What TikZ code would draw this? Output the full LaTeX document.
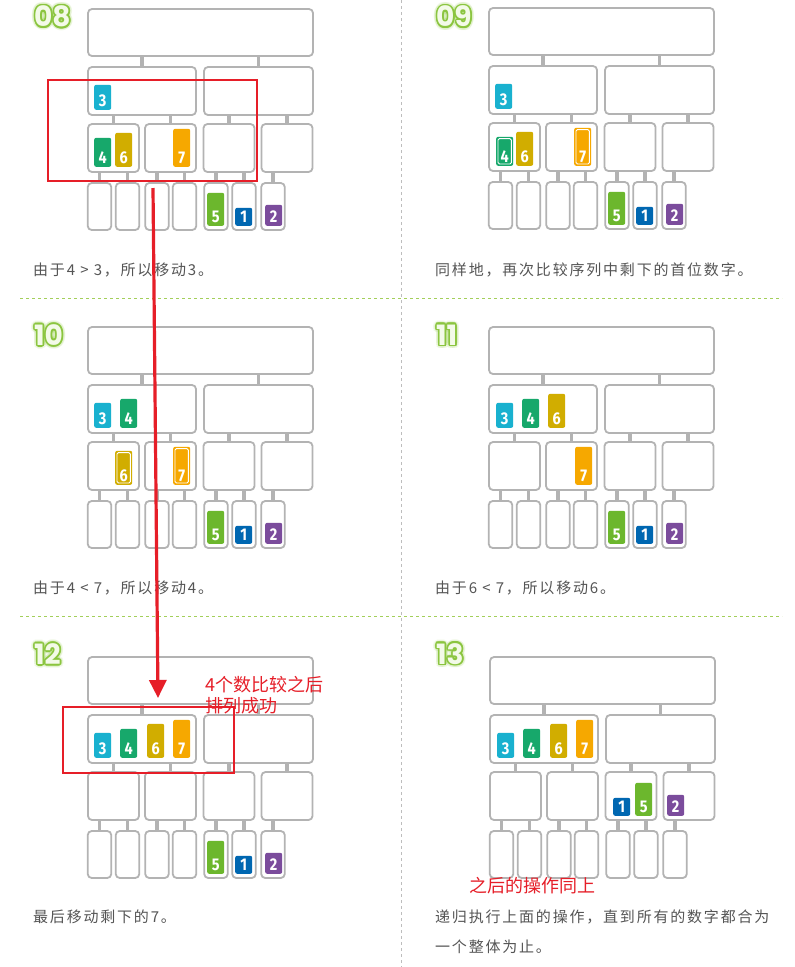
\documentclass[tikz,border=0pt]{standalone}
\usepackage{fontspec}
\usetikzlibrary{arrows.meta}
\newfontfamily\cjk{Noto Sans CJK SC}
\newfontfamily\cjksp[LetterSpace=12]{Noto Sans CJK SC}
\newfontfamily\digfont[FakeStretch=0.85]{Fira Sans}
\newfontfamily\lblfont{Poppins}
\definecolor{boxgray}{HTML}{B3B3B3}
\definecolor{col1}{HTML}{0067B1}
\definecolor{col2}{HTML}{7B4C9C}
\definecolor{col3}{HTML}{19B1CF}
\definecolor{col4}{HTML}{17A86B}
\definecolor{col5}{HTML}{6CB72D}
\definecolor{col6}{HTML}{D1AD00}
\definecolor{col7}{HTML}{F6A800}
\definecolor{textgray}{HTML}{555555}
\definecolor{notered}{HTML}{E61E28}
\definecolor{divgreen}{HTML}{A3CF5A}
\definecolor{divgray}{HTML}{BDBDBD}
\definecolor{lbloutline}{HTML}{8BC53F}
\definecolor{lblfill}{HTML}{F3FAE8}
\definecolor{lblglow}{HTML}{A8D86A}
\tikzset{
  box/.style={draw=boxgray, line width=1.8pt, rounded corners=4pt, fill=white, inner sep=0pt},
  conn/.style={draw=boxgray, line width=3.5pt},
  card/.style={rounded corners=2pt, inner sep=0pt, minimum width=17pt},
  c1/.style={fill=col1, minimum height=18pt},
  c2/.style={fill=col2, minimum height=21pt},
  c3/.style={fill=col3, minimum height=25pt},
  c4/.style={fill=col4, minimum height=29pt},
  c5/.style={fill=col5, minimum height=33pt},
  c6/.style={fill=col6, minimum height=34pt},
  c7/.style={fill=col7, minimum height=38pt},
  digit/.style={font=\digfont\bfseries\fontsize{17}{17}\selectfont, text=white, inner sep=0pt},
  desc/.style={font=\cjksp\fontsize{15}{15}\selectfont, text=textgray, anchor=west, inner sep=0pt},
  note/.style={font=\cjk\fontsize{18}{18}\selectfont, text=notered, anchor=west, inner sep=0pt},
  lbl/.style={font=\lblfont\bfseries\fontsize{28}{28}\selectfont, anchor=west, inner sep=0pt},
  redbox/.style={draw=notered, line width=1.5pt, inner sep=0pt},
  hdiv/.style={draw=divgreen, line width=1pt, dash pattern=on 3pt off 3pt},
  vdiv/.style={draw=divgray, line width=1pt, dash pattern=on 3pt off 3pt},
}
\newcommand\tree[3]{%
\begin{scope}[shift={(#2,#3)}]
\node[box,minimum width=225pt,minimum height=47pt] (#1T) at (112.5,23.5) {};
\node[box,minimum width=108pt,minimum height=48pt] (#1A) at (54,82) {};
\node[box,minimum width=109pt,minimum height=48pt] (#1B) at (170.5,82) {};
\foreach \n/\cx in {1/25.5,2/82.5,3/141,4/199}
  {\node[box,minimum width=51pt,minimum height=48pt] (#1L\n) at (\cx,139) {};}
\foreach \n/\cx in {1/11.5,2/39.5,3/69,4/96.5,5/128,6/156,7/185}
  {\node[box,minimum width=23.5pt,minimum height=47pt] (#1F\n) at (\cx,197.5) {};}
\foreach \c/\p in {A/T,B/T,L1/A,L2/A,L3/B,L4/B,F1/L1,F2/L1,F3/L2,F4/L2,F5/L3,F6/L3,F7/L4}
  {\draw[conn] (#1\c.north) -- (#1\c.north |- #1\p.south);}
\end{scope}}
\newcommand\crd[4]{%
\node[card,c#4,anchor=south west] (#1) at (#2,#3) {};
\node[digit,anchor=base] (#1n) at ([yshift=3.5pt]#1.south) {#4};}
\newcommand\hlc[1]{%
\draw[white, line width=0.9pt, rounded corners=1.5pt] ([shift={(2pt,2pt)}]#1.south west) rectangle ([shift={(-2pt,-2pt)}]#1.north east);}
\newcommand\leaves[1]{%
\crd{#15}{119}{217}{5}\crd{#11}{147}{217}{1}\crd{#12}{177}{217}{2}}
\newcommand\steplbl[4]{%
\foreach \a in {0,30,...,330}
  {\node[lbl,text=lblglow,opacity=0.14] (#1g\a) at ([shift={(\a:3.6pt)}]#2,#3) {#4};}
\foreach \a in {0,30,...,330}
  {\node[lbl,text=lbloutline] (#1o\a) at ([shift={(\a:1.6pt)}]#2,#3) {#4};}
\node[lbl,text=lblfill] (#1) at (#2,#3) {#4};}
\begin{document}
\begin{tikzpicture}[x=1pt,y=-1pt]
\fill[white] (0,0) rectangle (795,967);
\useasboundingbox (0,0) rectangle (795,967);
% dividers
\draw[vdiv] (401,0) -- (401,967);
\draw[hdiv] (20,298) -- (782,298);
\draw[hdiv] (20,616) -- (782,616);
% step labels
\steplbl{s08}{34}{16.5}{08}
\steplbl{s09}{436}{16.5}{09}
\steplbl{s10}{34}{335}{10}
\steplbl{s11}{436}{335}{11}
\steplbl{s12}{34}{654}{12}
\steplbl{s13}{436}{654}{13}
% panel 08
\tree{a}{88}{9}
\begin{scope}[shift={(88,9)}]
\crd{a3}{6}{101}{3}
\crd{a4}{6}{158}{4}\crd{a6}{27}{158}{6}\crd{a7}{85}{158}{7}
\leaves{a}
\end{scope}
% panel 09
\tree{b}{489}{8}
\begin{scope}[shift={(489,8)}]
\crd{b3}{6}{101}{3}
\node[card,c4,anchor=south west] (b4) at (7,158) {};
\node[card,c6,anchor=south west] (b6) at (27,158) {};
\node[card,c7,anchor=south west] (b7) at (85,158) {};
\hlc{b4}\hlc{b7}
\node[digit,anchor=base] (b4n) at ([yshift=3.5pt]b4.south) {4};
\node[digit,anchor=base] (b6n) at ([yshift=3.5pt]b6.south) {6};
\node[digit,anchor=base] (b7n) at ([yshift=3.5pt]b7.south) {7};
\leaves{b}
\end{scope}
% panel 10
\tree{c}{88}{327}
\begin{scope}[shift={(88,327)}]
\crd{c3}{6}{101}{3}\crd{c4}{32}{101}{4}
\node[card,c6,anchor=south west] (c6) at (27,158) {};
\node[card,c7,anchor=south west] (c7) at (85,158) {};
\hlc{c6}\hlc{c7}
\node[digit,anchor=base] (c6n) at ([yshift=3.5pt]c6.south) {6};
\node[digit,anchor=base] (c7n) at ([yshift=3.5pt]c7.south) {7};
\leaves{c}
\end{scope}
% panel 11
\tree{d}{489}{327}
\begin{scope}[shift={(489,327)}]
\crd{d3}{7}{101}{3}\crd{d4}{33}{101}{4}\crd{d6}{59}{101}{6}
\crd{d7}{86}{158}{7}
\leaves{d}
\end{scope}
% panel 12
\tree{e}{88}{657}
\begin{scope}[shift={(88,657)}]
\crd{e3}{6}{101}{3}\crd{e4}{32}{101}{4}\crd{e6}{59}{101}{6}\crd{e7}{85}{101}{7}
\leaves{e}
\end{scope}
% panel 13
\tree{f}{490}{657}
\begin{scope}[shift={(490,657)}]
\crd{f3}{7}{101}{3}\crd{f4}{33}{101}{4}\crd{f6}{60}{101}{6}\crd{f7}{86}{101}{7}
\crd{f1}{123}{159}{1}\crd{f5}{145}{159}{5}\crd{f2}{177}{159}{2}
\end{scope}
% descriptions
\node[desc] (t1) at (33,270) {由于4 > 3，所以移动3。};
\node[desc] (t2) at (435,270) {同样地，再次比较序列中剩下的首位数字。};
\node[desc] (t3) at (33,588) {由于4 < 7，所以移动4。};
\node[desc] (t4) at (435,588) {由于6 < 7，所以移动6。};
\node[desc] (t5) at (33,917) {最后移动剩下的7。};
\node[desc] (t6) at (435,917) {递归执行上面的操作，直到所有的数字都合为};
\node[desc] (t7) at (435,947) {一个整体为止。};
% red annotations
\node[redbox, minimum width=209pt, minimum height=101pt, anchor=north west] (rb1) at (47,79) {};
\node[redbox, minimum width=171pt, minimum height=66pt, anchor=north west] (rb2) at (62,706) {};
\node[note] (n1) at (205,685) {4个数比较之后};
\node[note] (n2) at (205,706) {排列成功};
\node[note] (n3) at (469,886) {之后的操作同上};
\coordinate (arrS) at (153,188);
\coordinate (arrE) at (158,698);
\draw[draw=notered, line width=3.2pt, -{Triangle[width=17pt,length=18pt]}] (arrS) -- (arrE);
\end{tikzpicture}
\end{document}
